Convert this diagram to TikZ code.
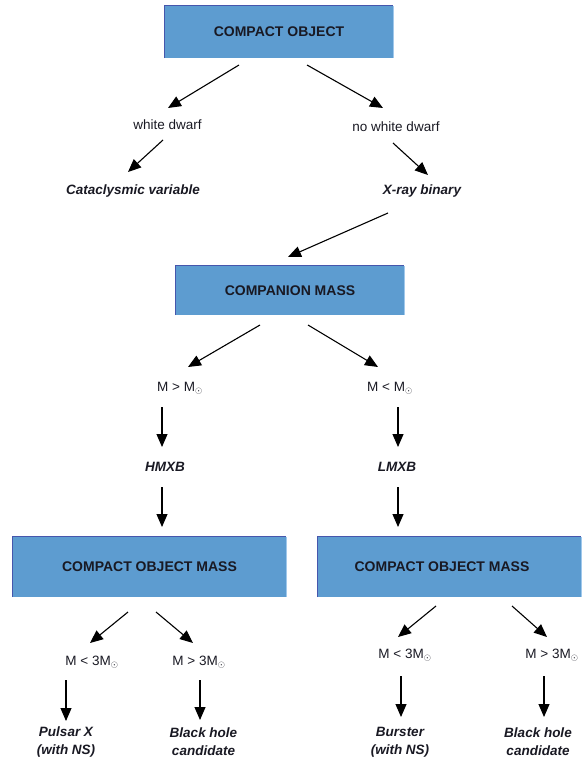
\documentclass[tikz,border=0pt]{standalone}
\usepackage{fontspec}
\setmainfont{Liberation Sans}
\usetikzlibrary{arrows.meta}
\definecolor{boxblue}{RGB}{93,156,208}
\definecolor{boxdark}{RGB}{70,86,172}
\definecolor{boxlight}{RGB}{160,200,235}
\definecolor{ink}{RGB}{25,25,35}
\newcommand{\sunsub}{$_{\odot}$}
\begin{document}
\begin{tikzpicture}[x=1pt,y=-1pt,
  bluebox/.style={fill=boxblue, inner sep=0pt, text=ink,
    font=\fontsize{14}{16}\selectfont\bfseries},
  lbl/.style={inner sep=1pt, text=ink, font=\fontsize{13.5}{16}\selectfont},
  res/.style={inner sep=1pt, text=ink, align=center,
    font=\fontsize{13.5}{18}\selectfont\bfseries\itshape},
  arr/.style={-{Triangle[length=13pt,width=11pt]}, line width=1.1pt, draw=black}]
\useasboundingbox (0,0) rectangle (581,762);

% boxes
\node[bluebox, minimum width=228pt, minimum height=52pt] (co) at (279,32) {COMPACT OBJECT};
\node[bluebox, minimum width=228pt, minimum height=49pt] (cm) at (290,290.5) {COMPANION MASS};
\node[bluebox, minimum width=273pt, minimum height=60pt] (cl) at (149.5,567) {COMPACT OBJECT MASS};
\node[bluebox, minimum width=263pt, minimum height=60pt] (cr) at (449.5,567) {COMPACT OBJECT MASS\hspace*{15pt}};
\foreach \b in {co,cm,cl,cr}{
  \draw[boxlight, line width=1pt] (\b.north east) -- (\b.south east);
  \draw[boxdark, line width=1.2pt] (\b.south west) -- (\b.north west) -- (\b.north east);
}

% labels
\node[lbl] (wd) at (167.5,125) {white dwarf};
\node[lbl] (nwd) at (396,127) {no white dwarf};
\node[res] (cv) at (133,191) {Cataclysmic variable};
\node[res] (xrb) at (422,191) {X-ray binary};
\node[lbl] (mg) at (180,388) {M > M\sunsub};
\node[lbl] (ml) at (390,388) {M < M\sunsub};
\node[res] (hm) at (165,467) {HMXB};
\node[res] (lm) at (397,467) {LMXB};
\node[lbl] (l1) at (92,662) {M < 3M\sunsub};
\node[lbl] (l2) at (199,662) {M > 3M\sunsub};
\node[lbl] (r1) at (405,655) {M < 3M\sunsub};
\node[lbl] (r2) at (552,655) {M > 3M\sunsub};
\node[res] (p1) at (66,742) {Pulsar X\\(with NS)};
\node[res] (p2) at (203.5,742) {Black hole\\candidate};
\node[res] (p3) at (400,742) {Burster\\(with NS)};
\node[res] (p4) at (538,742) {Black hole\\candidate};

% connector end points
\coordinate (co-wd-s) at (239,65);   \coordinate (co-wd-e) at (168,108);
\coordinate (co-nwd-s) at (307,65);  \coordinate (co-nwd-e) at (383,108);
\coordinate (wd-cv-s) at (163,140);  \coordinate (wd-cv-e) at (128,172);
\coordinate (nwd-xrb-s) at (393,143);\coordinate (nwd-xrb-e) at (428,175);
\coordinate (xrb-cm-s) at (388,213); \coordinate (xrb-cm-e) at (288,257);
\coordinate (cm-mg-s) at (260,325);  \coordinate (cm-mg-e) at (188,367);
\coordinate (cm-ml-s) at (308,325);  \coordinate (cm-ml-e) at (378,367);
\coordinate (mg-hm-s) at (162,407);  \coordinate (mg-hm-e) at (162,447);
\coordinate (ml-lm-s) at (398,407);  \coordinate (ml-lm-e) at (398,447);
\coordinate (hm-cl-s) at (162,487);  \coordinate (hm-cl-e) at (162,527);
\coordinate (lm-cr-s) at (398,487);  \coordinate (lm-cr-e) at (398,527);
\coordinate (cl-l1-s) at (128,612);  \coordinate (cl-l1-e) at (90,643);
\coordinate (cl-l2-s) at (156,612);  \coordinate (cl-l2-e) at (193,643);
\coordinate (cr-r1-s) at (436,606);  \coordinate (cr-r1-e) at (398,637);
\coordinate (cr-r2-s) at (512,606);  \coordinate (cr-r2-e) at (547,637);
\coordinate (l1-p1-s) at (66,680);   \coordinate (l1-p1-e) at (66,721);
\coordinate (l2-p2-s) at (200,680);  \coordinate (l2-p2-e) at (200,720);
\coordinate (r1-p3-s) at (401,676);  \coordinate (r1-p3-e) at (401,717);
\coordinate (r2-p4-s) at (544,676);  \coordinate (r2-p4-e) at (544,717);

\foreach \c in {co-wd,co-nwd,wd-cv,nwd-xrb,xrb-cm,cm-mg,cm-ml,mg-hm,ml-lm,hm-cl,lm-cr,
                cl-l1,cl-l2,cr-r1,cr-r2,l1-p1,l2-p2,r1-p3,r2-p4}
  \draw[arr] (\c-s) -- (\c-e);
\end{tikzpicture}
\end{document}
